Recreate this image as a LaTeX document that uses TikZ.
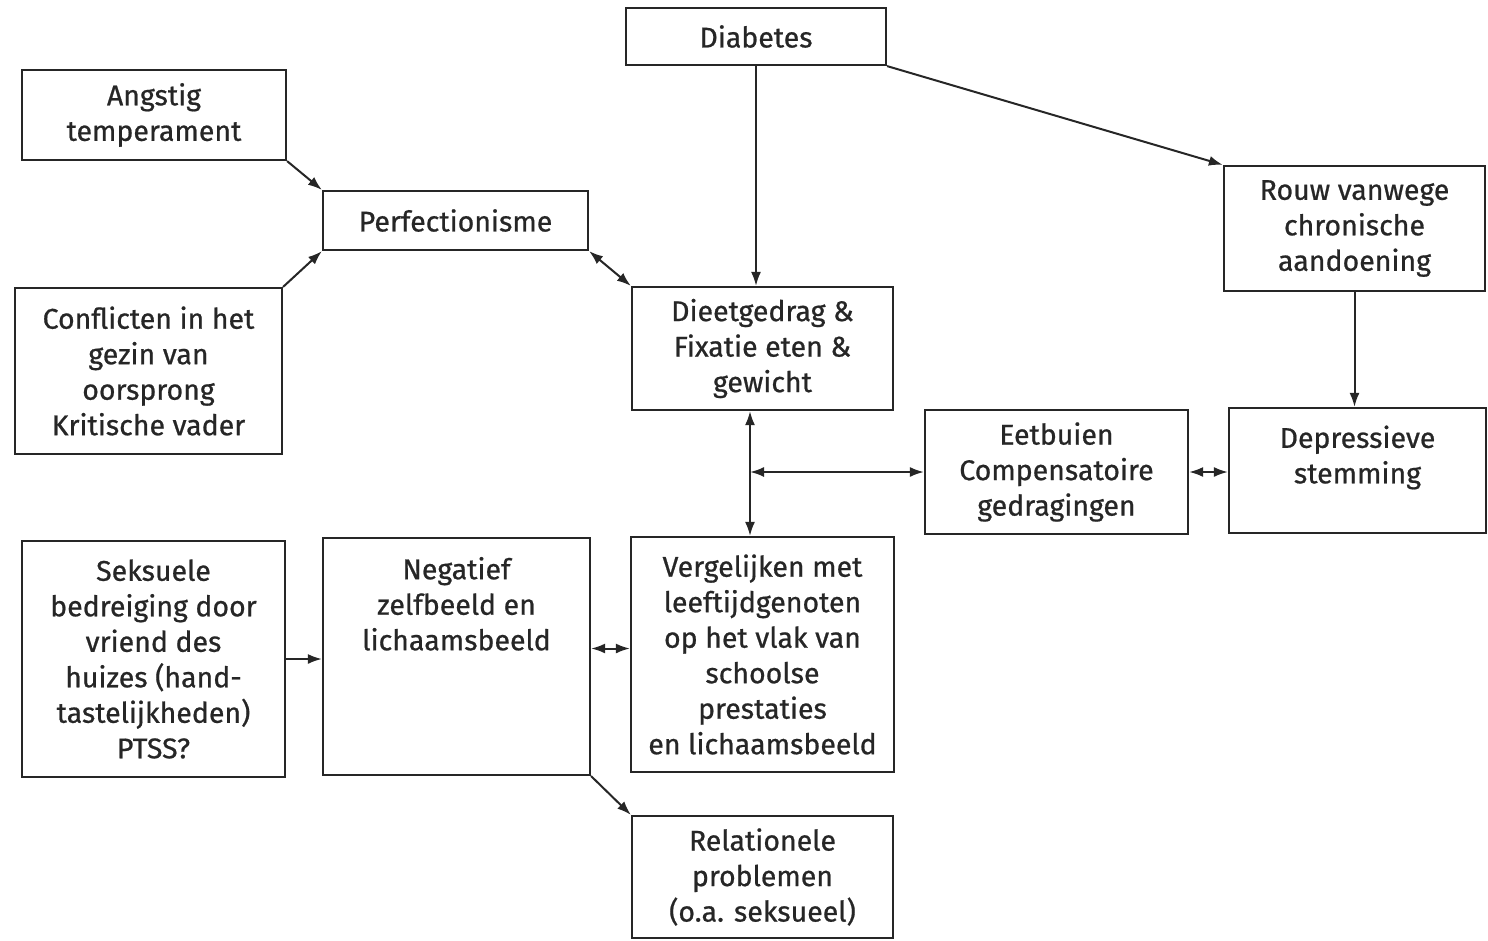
\documentclass[tikz,border=0pt]{standalone}
\usepackage{fontspec}
\setmainfont{Fira Sans}[FakeBold=0.7]
\usetikzlibrary{arrows.meta}
\begin{document}
\begin{tikzpicture}[x=1pt,y=-1pt,
  box/.style={draw=black!85, line width=2.2pt, rectangle, inner sep=0pt, align=center,
    font=\fontsize{28.5}{35.5}\selectfont, text=black!85},
  arr/.style={line width=2pt, draw=black!85, -{Latex[length=14pt,width=10pt]}},
  darr/.style={line width=2pt, draw=black!85, {Latex[length=14pt,width=10pt]}-{Latex[length=14pt,width=10pt]}}]
\useasboundingbox (0,0) rectangle (1488,940);
\node[box, minimum width=260, minimum height=57] (diab) at (756,36.5) {Diabetes};
\node[box, minimum width=264, minimum height=90] (angst) at (154,115) {Angstig\\temperament};
\node[box, minimum width=265, minimum height=59] (perf) at (455.5,220.5) {Perfectionisme};
\node[box, minimum width=267, minimum height=166] (confl) at (148.5,371) {Conflicten in het\\gezin van\\oorsprong\\Kritische vader};
\node[box, minimum width=261, minimum height=123] (dieet) at (762.5,348.5) {Dieetgedrag \&\\Fixatie eten \&\\gewicht};
\node[box, minimum width=261, minimum height=125] (rouw) at (1354.5,228.5) {Rouw vanwege\\chronische\\aandoening};
\node[box, minimum width=263, minimum height=124] (eet) at (1056.5,472) {Eetbuien\\Compensatoire\\gedragingen};
\node[box, minimum width=257, minimum height=125] (depr) at (1357.5,470.5) {};
\node[box, draw=none] at ([yshift=13]depr.center) {Depressieve\\stemming};
\node[box, minimum width=263, minimum height=236] (seks) at (153.5,659) {Seksuele\\bedreiging door\\vriend des\\huizes (hand-\\tastelijkheden)\\PTSS?};
\node[box, minimum width=267, minimum height=237] (neg) at (456.5,656.5) {};
\node[box, draw=none, anchor=north] at ([yshift=-19]neg.north) {Negatief\\zelfbeeld en\\lichaamsbeeld};
\node[box, minimum width=263, minimum height=235] (verg) at (762.5,654.5) {Vergelijken met\\leeftijdgenoten\\op het vlak van\\schoolse\\prestaties\\en lichaamsbeeld};
\node[box, minimum width=261, minimum height=122] (rel) at (762.5,877) {Relationele\\problemen\\(o.a. seksueel)};

\draw[arr] (angst.south east) -- (perf.north west);
\draw[arr] (confl.north east) -- (perf.south west);
\draw[darr] (perf.south east) -- (dieet.north west);
\draw[arr] (diab.south) -- (diab.south |- dieet.north);
\draw[arr] (diab.south east) -- (rouw.north west);
\draw[arr] (rouw.south) -- (rouw.south |- depr.north);
\coordinate (vt) at ([xshift=-12.5]dieet.south);
\coordinate (vb) at (vt |- verg.north);
\draw[darr] (vt) -- (vb);
\coordinate (vm) at (vt |- eet.west);
\draw[darr] (vm) -- (eet.west);
\draw[darr] (eet.east) -- (eet.east -| depr.west);
\draw[arr] (seks.east) -- (seks.east -| neg.west);
\coordinate (nv) at ([yshift=8]neg.east);
\draw[darr] (nv) -- (nv -| verg.west);
\draw[arr] (neg.south east) -- (rel.north west);
\end{tikzpicture}
\end{document}
